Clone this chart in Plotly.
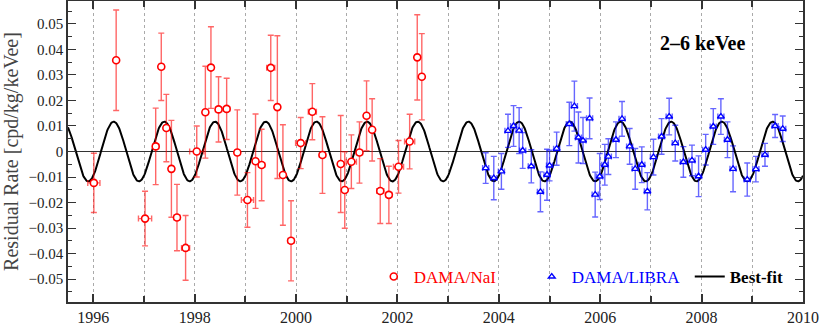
import numpy as np
import plotly.graph_objects as go

# DAMA/NaI residuals (2-6 keVee)
nai_time = [1996.01, 1996.45, 1997.02, 1997.23, 1997.34, 1997.44, 1997.54, 1997.65, 1997.82, 1998.04,
            1998.21, 1998.32, 1998.47, 1998.63, 1998.84, 1999.04, 1999.20, 1999.32, 1999.50, 1999.63,
            1999.74, 1999.90, 2000.09, 2000.32, 2000.52, 2000.88, 2000.96, 2001.09, 2001.25, 2001.39,
            2001.50, 2001.66, 2001.83, 2002.02, 2002.24, 2002.39, 2002.48]
nai_rate = [-0.0123, 0.0358, -0.0263, 0.0020, 0.0332, 0.0092, -0.0068, -0.0259, -0.0378, 0.0000,
            0.0154, 0.0329, 0.0165, 0.0167, -0.0004, -0.0190, -0.0038, -0.0053, 0.0328, 0.0174,
            -0.0092, -0.0350, 0.0033, 0.0156, -0.0014, -0.0049, -0.0151, -0.0040, -0.0004, 0.0140,
            0.0085, -0.0155, -0.0170, -0.0060, 0.0039, 0.0369, 0.0293]
nai_err = [0.0116, 0.0197, 0.0107, 0.0150, 0.0132, 0.0132, 0.0190, 0.0130, 0.0127, 0.0100,
           0.0180, 0.0160, 0.0128, 0.0120, 0.0167, 0.0107, 0.0185, 0.0140, 0.0128, 0.0280,
           0.0197, 0.0157, 0.0100, 0.0110, 0.0150, 0.0190, 0.0150, 0.0105, 0.0120, 0.0137,
           0.0122, 0.0127, 0.0112, 0.0103, 0.0107, 0.0167, 0.0169]
nai_terr = [0.12, 0.00, 0.13, 0.06, 0.05, 0.05, 0.04, 0.06, 0.08, 0.14,
            0.05, 0.05, 0.06, 0.06, 0.05, 0.12, 0.04, 0.06, 0.08, 0.04,
            0.05, 0.06, 0.10, 0.08, 0.06, 0.04, 0.04, 0.10, 0.06, 0.04,
            0.04, 0.07, 0.06, 0.10, 0.10, 0.04, 0.04]

# DAMA/LIBRA residuals (2-6 keVee)
libra_time = [2003.74, 2003.90, 2004.05, 2004.18, 2004.29, 2004.40, 2004.47, 2004.64, 2004.82, 2004.95,
              2005.00, 2005.14, 2005.39, 2005.49, 2005.57, 2005.66, 2005.79, 2005.90, 2005.99, 2006.09,
              2006.16, 2006.31, 2006.43, 2006.58, 2006.69, 2006.82, 2006.93, 2007.05, 2007.21, 2007.36,
              2007.48, 2007.64, 2007.81, 2007.94, 2008.08, 2008.23, 2008.38, 2008.51, 2008.62, 2008.90,
              2009.07, 2009.25, 2009.45, 2009.60]
libra_rate = [-0.0065, -0.0104, -0.0078, 0.0081, 0.0100, 0.0082, 0.0004, -0.0058, -0.0158, -0.0091,
              -0.0055, 0.0011, 0.0108, 0.0178, 0.0055, 0.0043, 0.0130, -0.0169, -0.0098, -0.0052,
              -0.0020, 0.0046, 0.0128, 0.0020, -0.0068, -0.0052, -0.0156, -0.0022, 0.0059, 0.0137,
              0.0033, -0.0041, -0.0035, -0.0097, 0.0007, 0.0098, 0.0137, 0.0046, -0.0068, -0.0110,
              -0.0069, -0.0013, 0.0100, 0.0089]
libra_err = [0.0060, 0.0085, 0.0070, 0.0065, 0.0080, 0.0090, 0.0070, 0.0065, 0.0078, 0.0100,
             0.0060, 0.0065, 0.0085, 0.0098, 0.0100, 0.0090, 0.0080, 0.0088, 0.0090, 0.0080,
             0.0070, 0.0070, 0.0068, 0.0070, 0.0080, 0.0070, 0.0073, 0.0070, 0.0070, 0.0072,
             0.0070, 0.0060, 0.0060, 0.0080, 0.0060, 0.0070, 0.0070, 0.0070, 0.0090, 0.0065,
             0.0050, 0.0045, 0.0045, 0.0050]
libra_terr = [0.06] * len(libra_time)

# best-fit modulation: A cos(2pi (t - t0) / T)
fit_amp = 0.0117
fit_period = 1.0
fit_t0 = 1996.40

fit_t = np.linspace(1995.5, 2010, 1500)
fit_rate = fit_amp * np.cos(2 * np.pi * (fit_t - fit_t0) / fit_period)

serif = "Liberation Serif"

fig = go.Figure()

fig.add_trace(go.Scatter(
    x=fit_t, y=fit_rate, mode="lines",
    line=dict(color="black", width=2),
    name="<b>Best-fit</b>", legendrank=3,
))

fig.add_trace(go.Scatter(
    x=nai_time, y=nai_rate, mode="markers",
    marker=dict(symbol="circle", size=7, color="white", line=dict(color="red", width=1.6)),
    error_y=dict(type="data", array=nai_err, color="rgba(255,0,0,0.6)", thickness=1.4, width=3),
    error_x=dict(type="data", array=nai_terr, color="rgba(255,0,0,0.6)", thickness=1.4, width=3),
    name="<span style='color:red'>DAMA/NaI</span>", legendrank=1,
))

fig.add_trace(go.Scatter(
    x=libra_time, y=libra_rate, mode="markers",
    marker=dict(symbol="triangle-up", size=6, color="white", line=dict(color="blue", width=1.4)),
    error_y=dict(type="data", array=libra_err, color="rgba(0,0,255,0.6)", thickness=1.4, width=3),
    error_x=dict(type="data", array=libra_terr, color="rgba(0,0,255,0.6)", thickness=1.4, width=3),
    name="<span style='color:blue'>DAMA/LIBRA</span>", legendrank=2,
))

fig.add_annotation(
    x=0.863, y=0.862, xref="paper", yref="paper", xanchor="center", yanchor="middle",
    text="<b>2–6 keVee</b>", showarrow=False,
    font=dict(family=serif, size=20, color="black"),
)

fig.update_xaxes(
    range=[1995.5, 2010], tick0=1996, dtick=2,
    ticks="inside", ticklen=8, tickwidth=1.5, tickcolor="#333",
    showline=True, linecolor="#333", linewidth=1.5, mirror="allticks",
    showgrid=True, gridcolor="#aaa", griddash="dot", gridwidth=1,
    minor=dict(dtick=1, ticks="inside", ticklen=6, tickcolor="#333",
               showgrid=True, gridcolor="#aaa", griddash="dot", gridwidth=1),
    tickfont=dict(family=serif, size=16, color="#222"),
    zeroline=False, automargin=False,
)
fig.update_yaxes(
    range=[-0.059, 0.059], dtick=0.01,
    ticks="inside", ticklen=8, tickwidth=1.2, tickcolor="#333",
    showline=True, linecolor="#333", linewidth=1.5, mirror="allticks",
    showgrid=False,
    minor=dict(dtick=0.005, ticks="inside", ticklen=4, tickcolor="#333"),
    zeroline=True, zerolinecolor="#333", zerolinewidth=1,
    tickfont=dict(family=serif, size=15, color="#222"),
    title=dict(text="Residual Rate [cpd/kg/keVee]", standoff=8,
               font=dict(family=serif, size=20, color="#444")),
    automargin=False,
)

fig.update_layout(
    width=823, height=327,
    margin=dict(l=68, r=20, t=1, b=25, autoexpand=False),
    plot_bgcolor="white", paper_bgcolor="white",
    showlegend=True,
    legend=dict(
        orientation="h", x=0.416, y=0.083, xanchor="left", yanchor="middle",
        bgcolor="rgba(0,0,0,0)", font=dict(family=serif, size=17, color="black"),
        entrywidth=113, entrywidthmode="pixels", itemwidth=30,
    ),
)

# drop the page's default body margin so the figure sits at the window corner
fig.write_html("out.html", config={"displayModeBar": False},
               post_script="document.body.style.margin = '0';")
